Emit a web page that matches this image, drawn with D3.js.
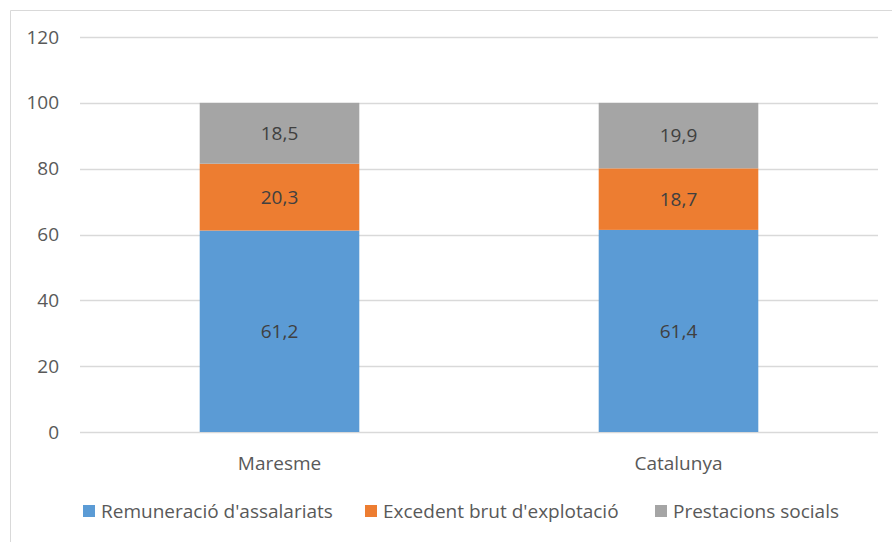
<!DOCTYPE html>
<html>
<head>
<meta charset="utf-8">
<script src="https://cdn.jsdelivr.net/npm/d3@7"></script>
<style>
  body { margin: 0; background: #fff; }
  text { font-family: "Open Sans", sans-serif; }
</style>
</head>
<body>
<script>
// chart values
const categories = ["Maresme", "Catalunya"];
const seriesNames = ["Remuneració d'assalariats", "Excedent brut d'explotació", "Prestacions socials"];
const remuneracio = [61.2, 61.4];
const excedent = [20.3, 18.7];
const prestacions = [18.5, 19.9];
const yTicks = [0, 20, 40, 60, 80, 100, 120];

const colors = ["#5B9BD5", "#ED7D31", "#A5A5A5"];
const fontSize = "19px";

const svg = d3.select("body").append("svg")
    .attr("width", 892)
    .attr("height", 542);

// outer frame (cut off on the right and bottom)
svg.append("path")
    .attr("d", "M10.5,542 L10.5,10.5 L892,10.5")
    .attr("fill", "none")
    .attr("stroke", "#d9d9d9")
    .attr("stroke-width", 1);

const margin = { top: 37, left: 80, right: 14, bottom: 110 };
const width = 892 - margin.left - margin.right;
const height = 432 - margin.top;

const g = svg.append("g").attr("transform", `translate(${margin.left},${margin.top})`);

const x = d3.scaleBand().domain(categories).range([0, width]).paddingInner(0.6).paddingOuter(0.3);
const y = d3.scaleLinear().domain([0, 120]).range([height, 0]);

// gridlines
g.selectAll(".grid")
    .data(yTicks)
    .enter().append("line")
    .attr("x1", 0).attr("x2", width)
    .attr("y1", d => Math.round(y(d)) + 0.5)
    .attr("y2", d => Math.round(y(d)) + 0.5)
    .attr("stroke", "#d9d9d9")
    .attr("stroke-width", 1.3);

// y labels
g.selectAll(".ylab")
    .data(yTicks)
    .enter().append("text")
    .attr("x", -21)
    .attr("y", d => y(d))
    .attr("dy", "0.35em")
    .attr("text-anchor", "end")
    .attr("fill", "#595959")
    .style("font-size", fontSize)
    .text(d => d);

// stacked data
const rows = categories.map((c, i) => ({
    cat: c,
    s0: remuneracio[i],
    s1: excedent[i],
    s2: prestacions[i]
}));
const stack = d3.stack().keys(["s0", "s1", "s2"])(rows);

const layers = g.selectAll(".layer")
    .data(stack)
    .enter().append("g")
    .attr("fill", (d, i) => colors[i]);

layers.selectAll("rect")
    .data(d => d)
    .enter().append("rect")
    .attr("x", d => x(d.data.cat))
    .attr("width", x.bandwidth())
    .attr("y", d => y(d[1]))
    .attr("height", d => y(d[0]) - y(d[1]));

layers.selectAll("text")
    .data(d => d)
    .enter().append("text")
    .attr("x", d => x(d.data.cat) + x.bandwidth() / 2)
    .attr("y", d => y((d[0] + d[1]) / 2))
    .attr("dy", "0.35em")
    .attr("text-anchor", "middle")
    .attr("fill", "#404040")
    .style("font-size", fontSize)
    .text(d => d3.format(".1f")(d[1] - d[0]).replace(".", ","));

// category labels
g.selectAll(".xlab")
    .data(categories)
    .enter().append("text")
    .attr("x", d => x(d) + x.bandwidth() / 2)
    .attr("y", height + 31)
    .attr("dy", "0.35em")
    .attr("text-anchor", "middle")
    .attr("fill", "#595959")
    .style("font-size", fontSize)
    .text(d => d);

// legend
const legendX = [83, 365, 655];
const legend = svg.selectAll(".legend")
    .data(seriesNames)
    .enter().append("g")
    .attr("transform", (d, i) => `translate(${legendX[i]},511)`);

legend.append("rect")
    .attr("x", 0).attr("y", -6)
    .attr("width", 12).attr("height", 12)
    .attr("fill", (d, i) => colors[i]);

legend.append("text")
    .attr("x", 18)
    .attr("y", 0)
    .attr("dy", "0.35em")
    .attr("fill", "#595959")
    .style("font-size", fontSize)
    .text(d => d);
</script>
</body>
</html>
